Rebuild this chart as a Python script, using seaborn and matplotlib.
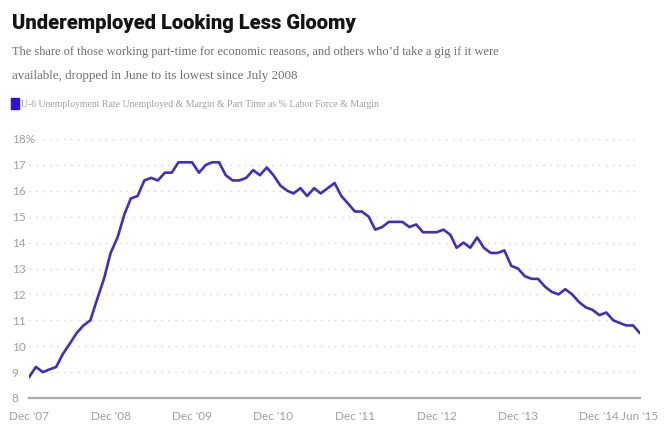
import matplotlib
matplotlib.use("Agg")
import matplotlib.pyplot as plt
import pandas as pd
import seaborn as sns

# U-6 unemployment rate, monthly, Dec 2007 - Jun 2015 (percent)
months = pd.date_range("2007-12-01", "2015-06-01", freq="MS")
u6_rate = [
    8.8,
    9.2, 9.0, 9.1, 9.2, 9.7, 10.1, 10.5, 10.8, 11.0, 11.8, 12.6, 13.6,
    14.2, 15.1, 15.7, 15.8, 16.4, 16.5, 16.4, 16.7, 16.7, 17.1, 17.1, 17.1,
    16.7, 17.0, 17.1, 17.1, 16.6, 16.4, 16.4, 16.5, 16.8, 16.6, 16.9, 16.6,
    16.2, 16.0, 15.9, 16.1, 15.8, 16.1, 15.9, 16.1, 16.3, 15.8, 15.5, 15.2,
    15.2, 15.0, 14.5, 14.6, 14.8, 14.8, 14.8, 14.6, 14.7, 14.4, 14.4, 14.4,
    14.5, 14.3, 13.8, 14.0, 13.8, 14.2, 13.8, 13.6, 13.6, 13.7, 13.1, 13.0,
    12.7, 12.6, 12.6, 12.3, 12.1, 12.0, 12.2, 12.0, 11.7, 11.5, 11.4, 11.2,
    11.3, 11.0, 10.9, 10.8, 10.8, 10.5,
]
tick_dates = ["2007-12-01", "2008-12-01", "2009-12-01", "2010-12-01",
              "2011-12-01", "2012-12-01", "2013-12-01", "2014-12-01",
              "2015-06-01"]
tick_labels = ["Dec '07", "Dec '08", "Dec '09", "Dec '10", "Dec '11",
               "Dec '12", "Dec '13", "Dec '14", "Jun '15"]
y_ticks = [8, 9, 10, 11, 12, 13, 14, 15, 16, 17, 18]
y_labels = ["8", "9", "10", "11", "12", "13", "14", "15", "16", "17", "18%"]

title = "Underemployed Looking Less Gloomy"
subtitle_1 = ("The share of those working part-time for economic reasons, "
              "and others who\u2019d take a gig if it were")
subtitle_2 = "available, dropped in June to its lowest since July 2008"
series_name = ("U-6 Unemployment Rate Unemployed & Margin & Part Time as % "
               "Labor Force & Margin")

df = pd.DataFrame({"month": months, "rate": u6_rate})

sns.set_theme(style="white")
plt.rcParams["font.family"] = ["Lato", "DejaVu Sans"]

W, H = 670, 437
fig = plt.figure(figsize=(W / 100, H / 100), dpi=100)
fig.patch.set_facecolor("white")

# plot area in pixel coordinates
left, right, top, bottom = 29, 640, 139, 398
ax = fig.add_axes([left / W, 1 - bottom / H, (right - left) / W, (bottom - top) / H])

line_color = "#3d30bd"
sns.lineplot(data=df, x="month", y="rate", ax=ax, color=line_color,
             linewidth=1.9, legend=False)

ax.set_xlim(months[0], months[-1])
ax.set_ylim(8, 18)
ax.set_xlabel("")
ax.set_ylabel("")

ax.set_yticks(y_ticks)
ax.set_yticklabels(y_labels)
ax.set_xticks([pd.Timestamp(d) for d in tick_dates])
ax.set_xticklabels(tick_labels)

for v in y_ticks[1:]:
    ax.axhline(v, color="#d4d4d4", linewidth=1.0, linestyle=(0, (1, 4)), zorder=0)

for s in ["top", "right", "left"]:
    ax.spines[s].set_visible(False)
ax.spines["bottom"].set_color("#ababab")
ax.spines["bottom"].set_linewidth(1.6)

ax.tick_params(axis="y", length=0, pad=12.5, labelsize=8.5, labelcolor="#9e9e9e")
for lbl in ax.get_yticklabels():
    lbl.set_horizontalalignment("left")
ax.tick_params(axis="x", length=3, width=1, color="#ababab", direction="out",
               pad=6, labelsize=8.5, labelcolor="#9e9e9e")
ax.grid(False)

renderer = fig.canvas.get_renderer()


def fitted_text(x, y, s, width_px, **kw):
    t = fig.text(x / W, 1 - y / H, s, va="baseline", ha="left", **kw)
    w = t.get_window_extent(renderer=renderer).width
    t.set_fontsize(t.get_fontsize() * width_px / w)
    return t


fitted_text(12, 29, title, 345, fontsize=16, fontweight=900,
            color="#141414", family=["Roboto", "DejaVu Sans"])
fitted_text(12, 55, subtitle_1, 485, fontsize=11, color="#6e6e6e",
            family=["Liberation Serif", "DejaVu Serif"])
fitted_text(12, 79, subtitle_2, 286, fontsize=11, color="#6e6e6e",
            family=["Liberation Serif", "DejaVu Serif"])
fitted_text(21, 107, series_name, 361, fontsize=7, color="#a0a0a0",
            family=["Liberation Serif", "DejaVu Serif"])

# legend swatch
fig.patches.append(plt.Rectangle((11 / W, 1 - 109 / H), 8 / W, 11 / H,
                                 transform=fig.transFigure, color="#2a12dc"))

fig.savefig("out.png", dpi=100)
